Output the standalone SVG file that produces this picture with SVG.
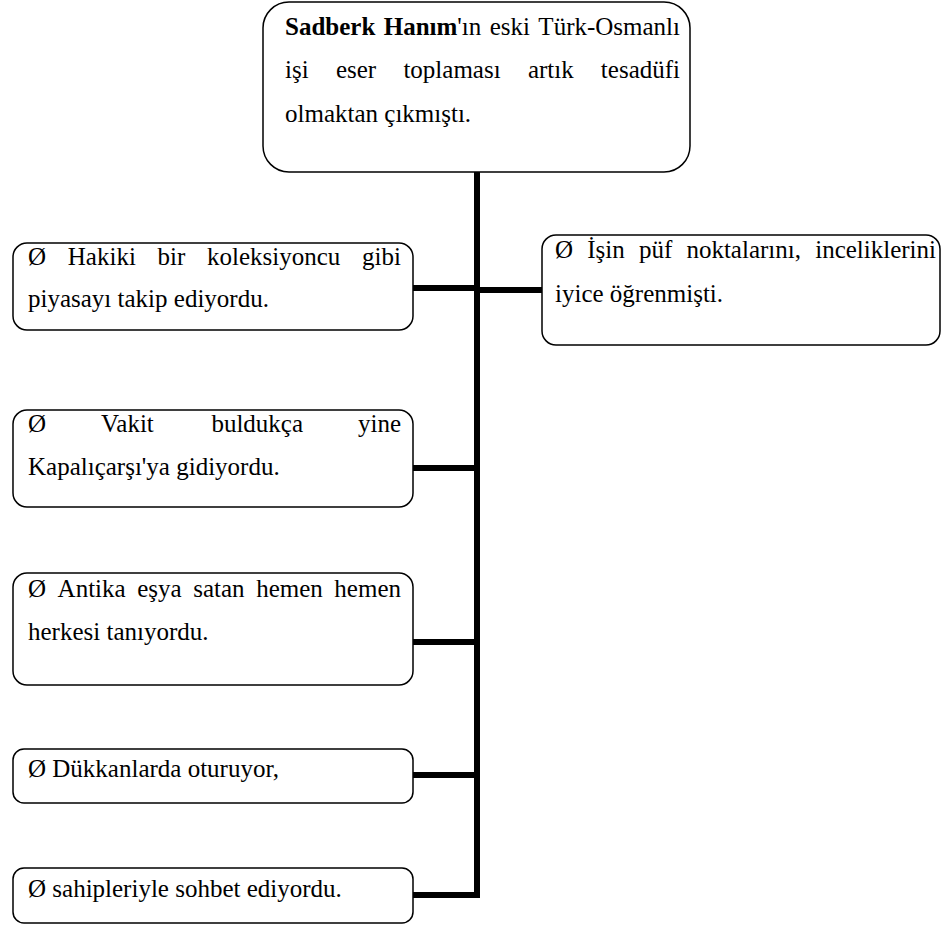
<svg xmlns="http://www.w3.org/2000/svg" width="947" height="929" viewBox="0 0 947 929">
  <style>
    .box { fill: #ffffff; stroke: #000000; stroke-width: 1.5; }
    .lbl { font-family: "Liberation Serif", "Times New Roman", serif; font-size: 25px; fill: #000000; }
    .end { text-anchor: end; }
    .b { font-weight: bold; }
    .link { fill: none; stroke: #000000; stroke-width: 6; stroke-linecap: butt; }
  </style>

  <!-- connectors: trunk plus branches -->
  <g id="connectors">
    <path class="link" d="M477,172 V898"/>
    <path class="link" d="M413,288 H477"/>
    <path class="link" d="M477,290 H542"/>
    <path class="link" d="M413,468 H477"/>
    <path class="link" d="M413,642 H477"/>
    <path class="link" d="M413,775 H477"/>
    <path class="link" d="M413,895 H480"/>
  </g>

  <!-- justified lines: words placed one by one, last word pinned to the right margin -->
  <g id="root">
    <rect class="box" x="263" y="2" width="427" height="170" rx="26" ry="26"/>
    <text class="lbl" y="35"><tspan x="285" class="b">Sadberk</tspan><tspan x="383.7" class="b">Hanım</tspan><tspan>'ın</tspan><tspan x="489.7">eski</tspan></text>
    <text class="lbl end" x="680" y="35">Türk-Osmanlı</text>
    <text class="lbl" y="78"><tspan x="285">işi</tspan><tspan x="335.9">eser</tspan><tspan x="403.4">toplaması</tspan><tspan x="527.9">artık</tspan></text>
    <text class="lbl end" x="680" y="78">tesadüfi</text>
    <text class="lbl" x="285" y="122">olmaktan çıkmıştı.</text>
  </g>

  <g id="n-piyasa">
    <rect class="box" x="13" y="243" width="400" height="87" rx="14" ry="14"/>
    <text class="lbl" y="265"><tspan x="28">Ø</tspan><tspan x="67.8">Hakiki</tspan><tspan x="157.5">bir</tspan><tspan x="207">koleksiyoncu</tspan></text>
    <text class="lbl end" x="401" y="265">gibi</text>
    <text class="lbl" x="28" y="307">piyasayı takip ediyordu.</text>
  </g>

  <g id="n-puf">
    <rect class="box" x="542" y="235" width="398" height="110" rx="14" ry="14"/>
    <text class="lbl" y="258"><tspan x="555">Ø</tspan><tspan x="587.2">İşin</tspan><tspan x="638.9">püf</tspan><tspan x="686.4">noktalarını,</tspan></text>
    <text class="lbl end" x="936" y="258">inceliklerini</text>
    <text class="lbl" x="555" y="302">iyice öğrenmişti.</text>
  </g>

  <g id="n-kapalicarsi">
    <rect class="box" x="13" y="410" width="400" height="97" rx="14" ry="14"/>
    <text class="lbl" y="432"><tspan x="28">Ø</tspan><tspan x="101">Vakit</tspan><tspan x="211.4">buldukça</tspan></text>
    <text class="lbl end" x="401" y="432">yine</text>
    <text class="lbl" x="28" y="475">Kapalıçarşı'ya gidiyordu.</text>
  </g>

  <g id="n-antika">
    <rect class="box" x="13" y="573" width="400" height="112" rx="14" ry="14"/>
    <text class="lbl" y="597"><tspan x="28">Ø</tspan><tspan x="57.6">Antika</tspan><tspan x="137.2">eşya</tspan><tspan x="193.2">satan</tspan><tspan x="256.2">hemen</tspan></text>
    <text class="lbl end" x="401" y="597">hemen</text>
    <text class="lbl" x="28" y="640">herkesi tanıyordu.</text>
  </g>

  <g id="n-dukkan">
    <rect class="box" x="13" y="749" width="400" height="54" rx="11" ry="11"/>
    <text class="lbl" x="28" y="777">Ø Dükkanlarda oturuyor,</text>
  </g>

  <g id="n-sohbet">
    <rect class="box" x="13" y="868" width="400" height="55" rx="11" ry="11"/>
    <text class="lbl" x="28" y="897">Ø sahipleriyle sohbet ediyordu.</text>
  </g>
</svg>
